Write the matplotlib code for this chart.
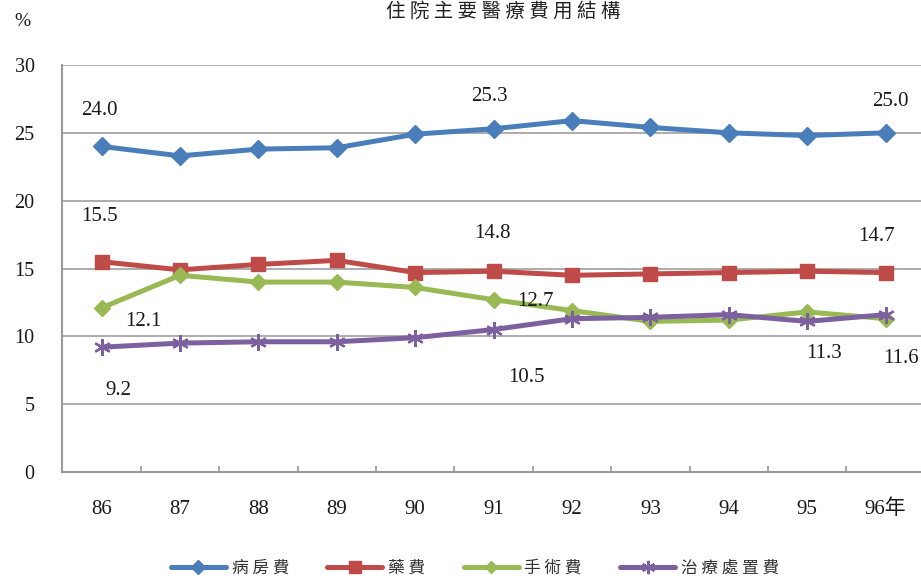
import matplotlib
matplotlib.use("Agg")
import matplotlib.pyplot as plt
from matplotlib.ticker import FixedLocator, NullFormatter

plt.rcParams['font.family'] = ['Liberation Serif', 'Noto Sans CJK TC', 'DejaVu Sans']

# ---- data -------------------------------------------------------------
years = ['86', '87', '88', '89', '90', '91', '92', '93', '94', '95', '96年']
ward = [24.0, 23.3, 23.8, 23.9, 24.9, 25.3, 25.9, 25.4, 25.0, 24.8, 25.0]
drugs = [15.5, 14.9, 15.3, 15.6, 14.7, 14.8, 14.5, 14.6, 14.7, 14.8, 14.7]
surgery = [12.1, 14.5, 14.0, 14.0, 13.6, 12.7, 11.9, 11.1, 11.2, 11.8, 11.3]
treatment = [9.2, 9.5, 9.6, 9.6, 9.9, 10.5, 11.3, 11.4, 11.6, 11.1, 11.6]
series_names = ['病 房 費', '藥 費', '手 術 費', '治 療 處 置 費']
y_ticks = [0, 5, 10, 15, 20, 25, 30]

# labelled points (index) and label offsets in pixels (dx, dy)
label_idx = [0, 5, 10]
label_offsets = [
    [(-2, 36), (-4, 32), (5, 31)],
    [(-2, 45), (-1, 38), (-9, 36)],
    [(42, -14), (42, -2), (-62, -35)],
    [(17, -43), (33, -48), (15, -44)],
]

colors = ['#4A7EBB', '#BE4B48', '#98B954', '#7D60A0']
markers = ['D', 's', 'D', (6, 2, 0)]
msizes = [9, 10, 8, 12]

fig = plt.figure(figsize=(9.21, 5.81), dpi=100)
ax = fig.add_axes([62.4 / 921, 1 - 472 / 581, 862.4 / 921, (472 - 65) / 581])

x = list(range(len(years)))
all_series = [ward, drugs, surgery, treatment]
for vals, name, c, m, ms, offs in zip(all_series, series_names, colors,
                                       markers, msizes, label_offsets):
    kw = dict(markerfacecolor=c, markeredgecolor=c)
    if m == (6, 2, 0):
        kw['markeredgewidth'] = 1.6
    ax.plot(x, vals, color=c, linewidth=3.6, marker=m, markersize=ms,
            label=name, solid_capstyle='round', zorder=3, **kw)
    for i, (dx, dy) in zip(label_idx, offs):
        ax.annotate(f'{vals[i]:.1f}', xy=(x[i], vals[i]), xytext=(dx, dy),
                    textcoords='offset pixels', ha='center', va='center',
                    fontsize=15, color='#1a1a1a', zorder=4)

ax.set_xlim(-0.5, len(years) - 0.5)
ax.set_ylim(0, 30)
ax.set_yticks(y_ticks)
ax.set_xticks(x)
ax.set_xticklabels(years)
ax.xaxis.set_minor_locator(FixedLocator([i - 0.5 for i in range(len(years) + 1)]))
ax.xaxis.set_minor_formatter(NullFormatter())

ax.tick_params(axis='x', which='major', length=0, pad=20, labelsize=15,
               labelcolor='#1a1a1a')
ax.tick_params(axis='x', which='minor', direction='in', length=4.5,
               width=1.2, color='#9a9a9a')
ax.tick_params(axis='y', length=0, pad=20, labelsize=14.5, labelcolor='#1a1a1a')

ax.grid(axis='y', color='#a6a6a6', linewidth=1.3, zorder=0)
ax.set_axisbelow(True)
for side in ('top', 'right'):
    ax.spines[side].set_visible(False)
for side in ('left', 'bottom'):
    ax.spines[side].set_color('#9a9a9a')
    ax.spines[side].set_linewidth(1.5)

fig.text(22 / 921, 1 - 22 / 581, '%', fontsize=14, ha='center', va='center',
         color='#1a1a1a')
fig.text(503 / 921, 1 - 1 / 581, '住 院 主 要 醫 療 費 用 結 構', fontsize=14,
         ha='center', va='top', color='#222222',
         family=['Noto Sans CJK TC'])

leg = fig.legend(loc='center', bbox_to_anchor=(475 / 921, 1 - 568 / 581),
                 ncol=4, frameon=False, handlelength=3.3, handletextpad=0.35,
                 columnspacing=2.3, markerscale=0.8,
                 prop={'family': 'Noto Sans CJK TC', 'size': 12})
for t in leg.get_texts():
    t.set_color('#333333')

fig.savefig('out.png', dpi=100)
